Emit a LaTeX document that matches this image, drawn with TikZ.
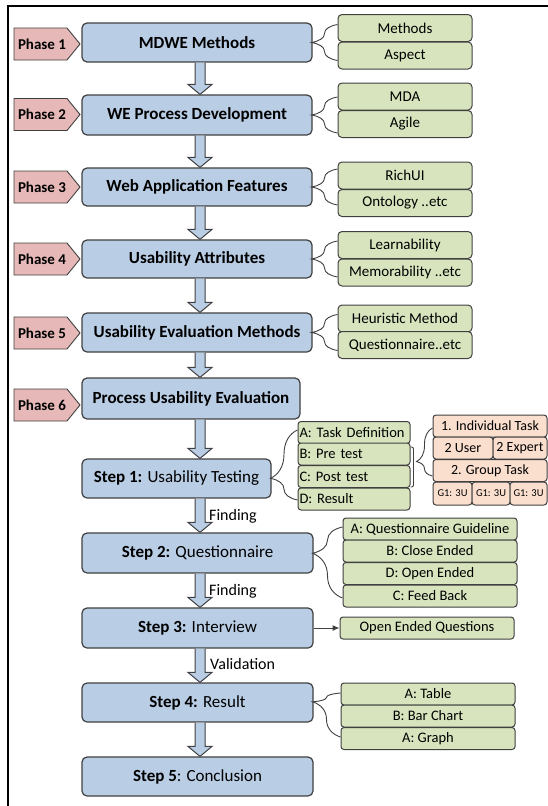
\documentclass[tikz,border=0pt]{standalone}
\usepackage{fontspec}
\setmainfont{Carlito}
\usetikzlibrary{calc,decorations.pathreplacing,arrows.meta}
\definecolor{bluefill}{HTML}{B9CDE5}
\definecolor{greenfill}{HTML}{D7E4BD}
\definecolor{phasefill}{HTML}{E6B9B8}
\definecolor{peachfill}{HTML}{FADFCF}
\definecolor{edge}{HTML}{404040}
\tikzset{
  mainbox/.style={draw=edge, fill=bluefill, line width=1.2pt, rounded corners=5pt, inner sep=0pt, font=\fontsize{17}{20}\selectfont},
  phaseshape/.style={draw=edge, fill=phasefill, line width=0.9pt, line join=miter},
  phasetext/.style={inner sep=0pt, font=\fontsize{15}{18}\selectfont\bfseries},
  greenbox/.style={draw=edge, fill=greenfill, line width=1pt, rounded corners=4pt, inner sep=0pt, minimum width=134pt, minimum height=27pt, font=\fontsize{15}{18}\selectfont},
  listbox/.style={draw=edge, fill=greenfill, line width=1pt, rounded corners=3pt, inner sep=0pt, minimum height=22pt, font=\fontsize{14.5}{17}\selectfont},
  peachbox/.style={draw=edge, fill=peachfill, line width=1pt, rounded corners=3pt, inner sep=0pt, minimum height=22pt, font=\fontsize{14}{16}\selectfont},
  bracestyle/.style={draw=edge, line width=0.9pt},
  blockarrow/.style={draw=edge, fill=bluefill, line width=1pt, line join=miter},
  flowlabel/.style={anchor=west, inner sep=0pt, font=\fontsize{16}{18}\selectfont}
}
\newcommand{\blockarr}[2]{%
  \path (colx |- #1.south) coordinate (ba-s) (colx |- #2.north) coordinate (ba-e);
  \filldraw[blockarrow] ($(ba-s)+(-5,0)$) -- ($(ba-e)+(-5,-10)$) -- ($(ba-e)+(-12,-10)$) -- (ba-e) -- ($(ba-e)+(12,-10)$) -- ($(ba-e)+(5,-10)$) -- ($(ba-s)+(5,0)$);
}
\newcommand{\phasebrace}[3]{%
  \draw[bracestyle, decorate, decoration={brace, amplitude=26pt, aspect=0.5}]
    ($(#1.east -| #2.west)+(0,#3)$) -- ($(#1.east -| #2.west)+(0,-#3)$);
}
\newcommand{\phasetag}[3]{%
  \filldraw[phaseshape] (14,{#2-16}) -- (67,{#2-16}) -- (80,#2) -- (67,{#2+16}) -- (14,{#2+16}) -- cycle;
  \node[phasetext] (#1) at (42,#2) {#3};
}
\begin{document}
\begin{tikzpicture}[x=1pt, y=-1pt]
\useasboundingbox (0,0) rectangle (548,806);
\draw[line width=2pt, line join=miter] (8,806) -- (8,6) -- (548,6);
\coordinate (colx) at (200,0);

% phase tags
\phasetag{T1}{44}{Phase 1}
\phasetag{T2}{114.5}{Phase 2}
\phasetag{T3}{187}{Phase 3}
\phasetag{T4}{259}{Phase 4}
\phasetag{T5}{333}{Phase 5}
\phasetag{T6}{405}{Phase 6}

% main phase boxes
\node[mainbox, minimum width=230pt, minimum height=39pt] (P1) at (197,42.5) {\bfseries MDWE Methods};
\node[mainbox, minimum width=230pt, minimum height=40pt] (P2) at (197,115) {\bfseries WE Process Development};
\node[mainbox, minimum width=230pt, minimum height=38pt] (P3) at (197,187) {\bfseries Web Application Features};
\node[mainbox, minimum width=230pt, minimum height=38pt] (P4) at (197,259) {\bfseries Usability Attributes};
\node[mainbox, minimum width=230pt, minimum height=39pt] (P5) at (197,332.5) {\bfseries Usability Evaluation Methods};
\node[mainbox, minimum width=218pt, minimum height=41pt] (P6) at (191,398.5) {\bfseries Process Usability Evaluation};

% step boxes
\node[mainbox, minimum width=189pt, minimum height=39pt] (S1) at (176.5,478.5) {\textbf{Step 1:} Usability Testing};
\node[mainbox, minimum width=231pt, minimum height=40pt] (S2) at (197.5,553) {\textbf{Step 2:} Questionnaire};
\node[mainbox, minimum width=231pt, minimum height=40pt] (S3) at (197.5,628) {\textbf{Step 3:} Interview};
\node[mainbox, minimum width=231pt, minimum height=39pt] (S4) at (197.5,702.5) {\textbf{Step 4:} Result};
\node[mainbox, minimum width=231pt, minimum height=39pt] (S5) at (197.5,776.5) {\textbf{Step 5}: Conclusion};

% green pairs
\node[greenbox] (M1) at (405,28) {Methods};
\node[greenbox] (M2) at (405,55.5) {Aspect};
\node[greenbox] (W1) at (405,96.5) {MDA};
\node[greenbox] (W2) at (405,124) {Agile};
\node[greenbox] (F1) at (405,175.5) {RichUI};
\node[greenbox] (F2) at (405,203) {Ontology ..etc};
\node[greenbox] (U1) at (405,245) {Learnability};
\node[greenbox] (U2) at (405,272.5) {Memorability ..etc};
\node[greenbox] (E1) at (405,318.5) {Heuristic Method};
\node[greenbox] (E2) at (405,345) {Questionnaire..etc};

\phasebrace{P1}{M1}{18}
\phasebrace{P2}{W1}{18}
\phasebrace{P3}{F1}{18}
\phasebrace{P4}{U1}{18}
\phasebrace{P5}{E1}{18}

% step 1 list
\node[listbox, minimum width=112pt, text width=109pt, align=left] (ta) at (354,432.5) {A: Task Definition};
\node[listbox, minimum width=112pt, text width=109pt, align=left] (tb) at (354,454) {B: Pre test};
\node[listbox, minimum width=112pt, text width=109pt, align=left] (tc) at (354,476.5) {C: Post test};
\node[listbox, minimum width=112pt, text width=109pt, align=left] (td) at (354,499) {D: Result};
\draw[bracestyle, decorate, decoration={brace, amplitude=27pt, aspect=0.31}]
  ($(S1.east -| ta.west)+(0,21.5)$) -- ($(S1.east -| ta.west)+(0,-48.5)$);

% peach boxes
\node[peachbox, minimum width=114pt] (pk1) at (490,426) {1. Individual Task};
\node[peachbox, minimum width=60pt] (pk2a) at (463,448) {2 User};
\node[peachbox, minimum width=54pt] (pk2b) at (520,448) {2 Expert};
\node[peachbox, minimum width=114pt] (pk3) at (490,470.5) {2. Group Task};
\node[peachbox, minimum width=39pt, minimum height=23pt, font=\fontsize{10.5}{12}\selectfont] (pk4a) at (452.5,493.5) {G1: 3U};
\node[peachbox, minimum width=38pt, minimum height=23pt, font=\fontsize{10.5}{12}\selectfont] (pk4b) at (491,493.5) {G1: 3U};
\node[peachbox, minimum width=37pt, minimum height=23pt, font=\fontsize{10.5}{12}\selectfont] (pk4c) at (528.5,493.5) {G1: 3U};
\draw[bracestyle, decorate, decoration={brace, amplitude=16pt, aspect=0.3}]
  ($(pk3.west)+(0,5.5)$) -- ($(pk1.west)+(0,2)$);
\draw[bracestyle, rounded corners=2pt] ($(tb.east)+(0,-7)$) -- ++(3,0) -- ($(tc.east)+(3,10.5)$) -- ($(tc.east)+(0,10.5)$);

% step 2 list
\node[listbox, minimum width=174pt] (qa) at (430,529) {A: Questionnaire Guideline};
\node[listbox, minimum width=174pt] (qb) at (430,551) {B: Close Ended};
\node[listbox, minimum width=174pt] (qd) at (430,573.5) {D: Open Ended};
\node[listbox, minimum width=174pt] (qc) at (430,596) {C: Feed Back};
\draw[bracestyle, decorate, decoration={brace, amplitude=30pt, aspect=0.63}]
  ($(S2.east -| qa.west)+(0,45)$) -- ($(S2.east -| qa.west)+(0,-26)$);

% step 3
\node[listbox, minimum width=174pt] (oq) at (427,628) {Open Ended Questions};
\draw[draw=edge, line width=1pt, -{Latex[length=7pt,width=6pt]}] (S3.east) -- (oq.west);

% step 4 list
\node[listbox, minimum width=174pt] (ra) at (428,694) {A: Table};
\node[listbox, minimum width=174pt] (rb) at (428,716) {B: Bar Chart};
\node[listbox, minimum width=174pt] (rc) at (428,738.5) {A: Graph};
\draw[bracestyle, decorate, decoration={brace, amplitude=28pt, aspect=0.8}]
  ($(S4.east -| ra.west)+(0,34.5)$) -- ($(S4.east -| ra.west)+(0,-9.5)$);

% block arrows
\blockarr{P1}{P2}
\blockarr{P2}{P3}
\blockarr{P3}{P4}
\blockarr{P4}{P5}
\blockarr{P5}{P6}
\blockarr{P6}{S1}
\blockarr{S1}{S2}
\blockarr{S2}{S3}
\blockarr{S3}{S4}
\blockarr{S4}{S5}

% flow labels
\node[flowlabel] (L1) at (209,516) {Finding};
\node[flowlabel] (L2) at (209,591) {Finding};
\node[flowlabel] (L3) at (210,664) {Validation};
\end{tikzpicture}
\end{document}
